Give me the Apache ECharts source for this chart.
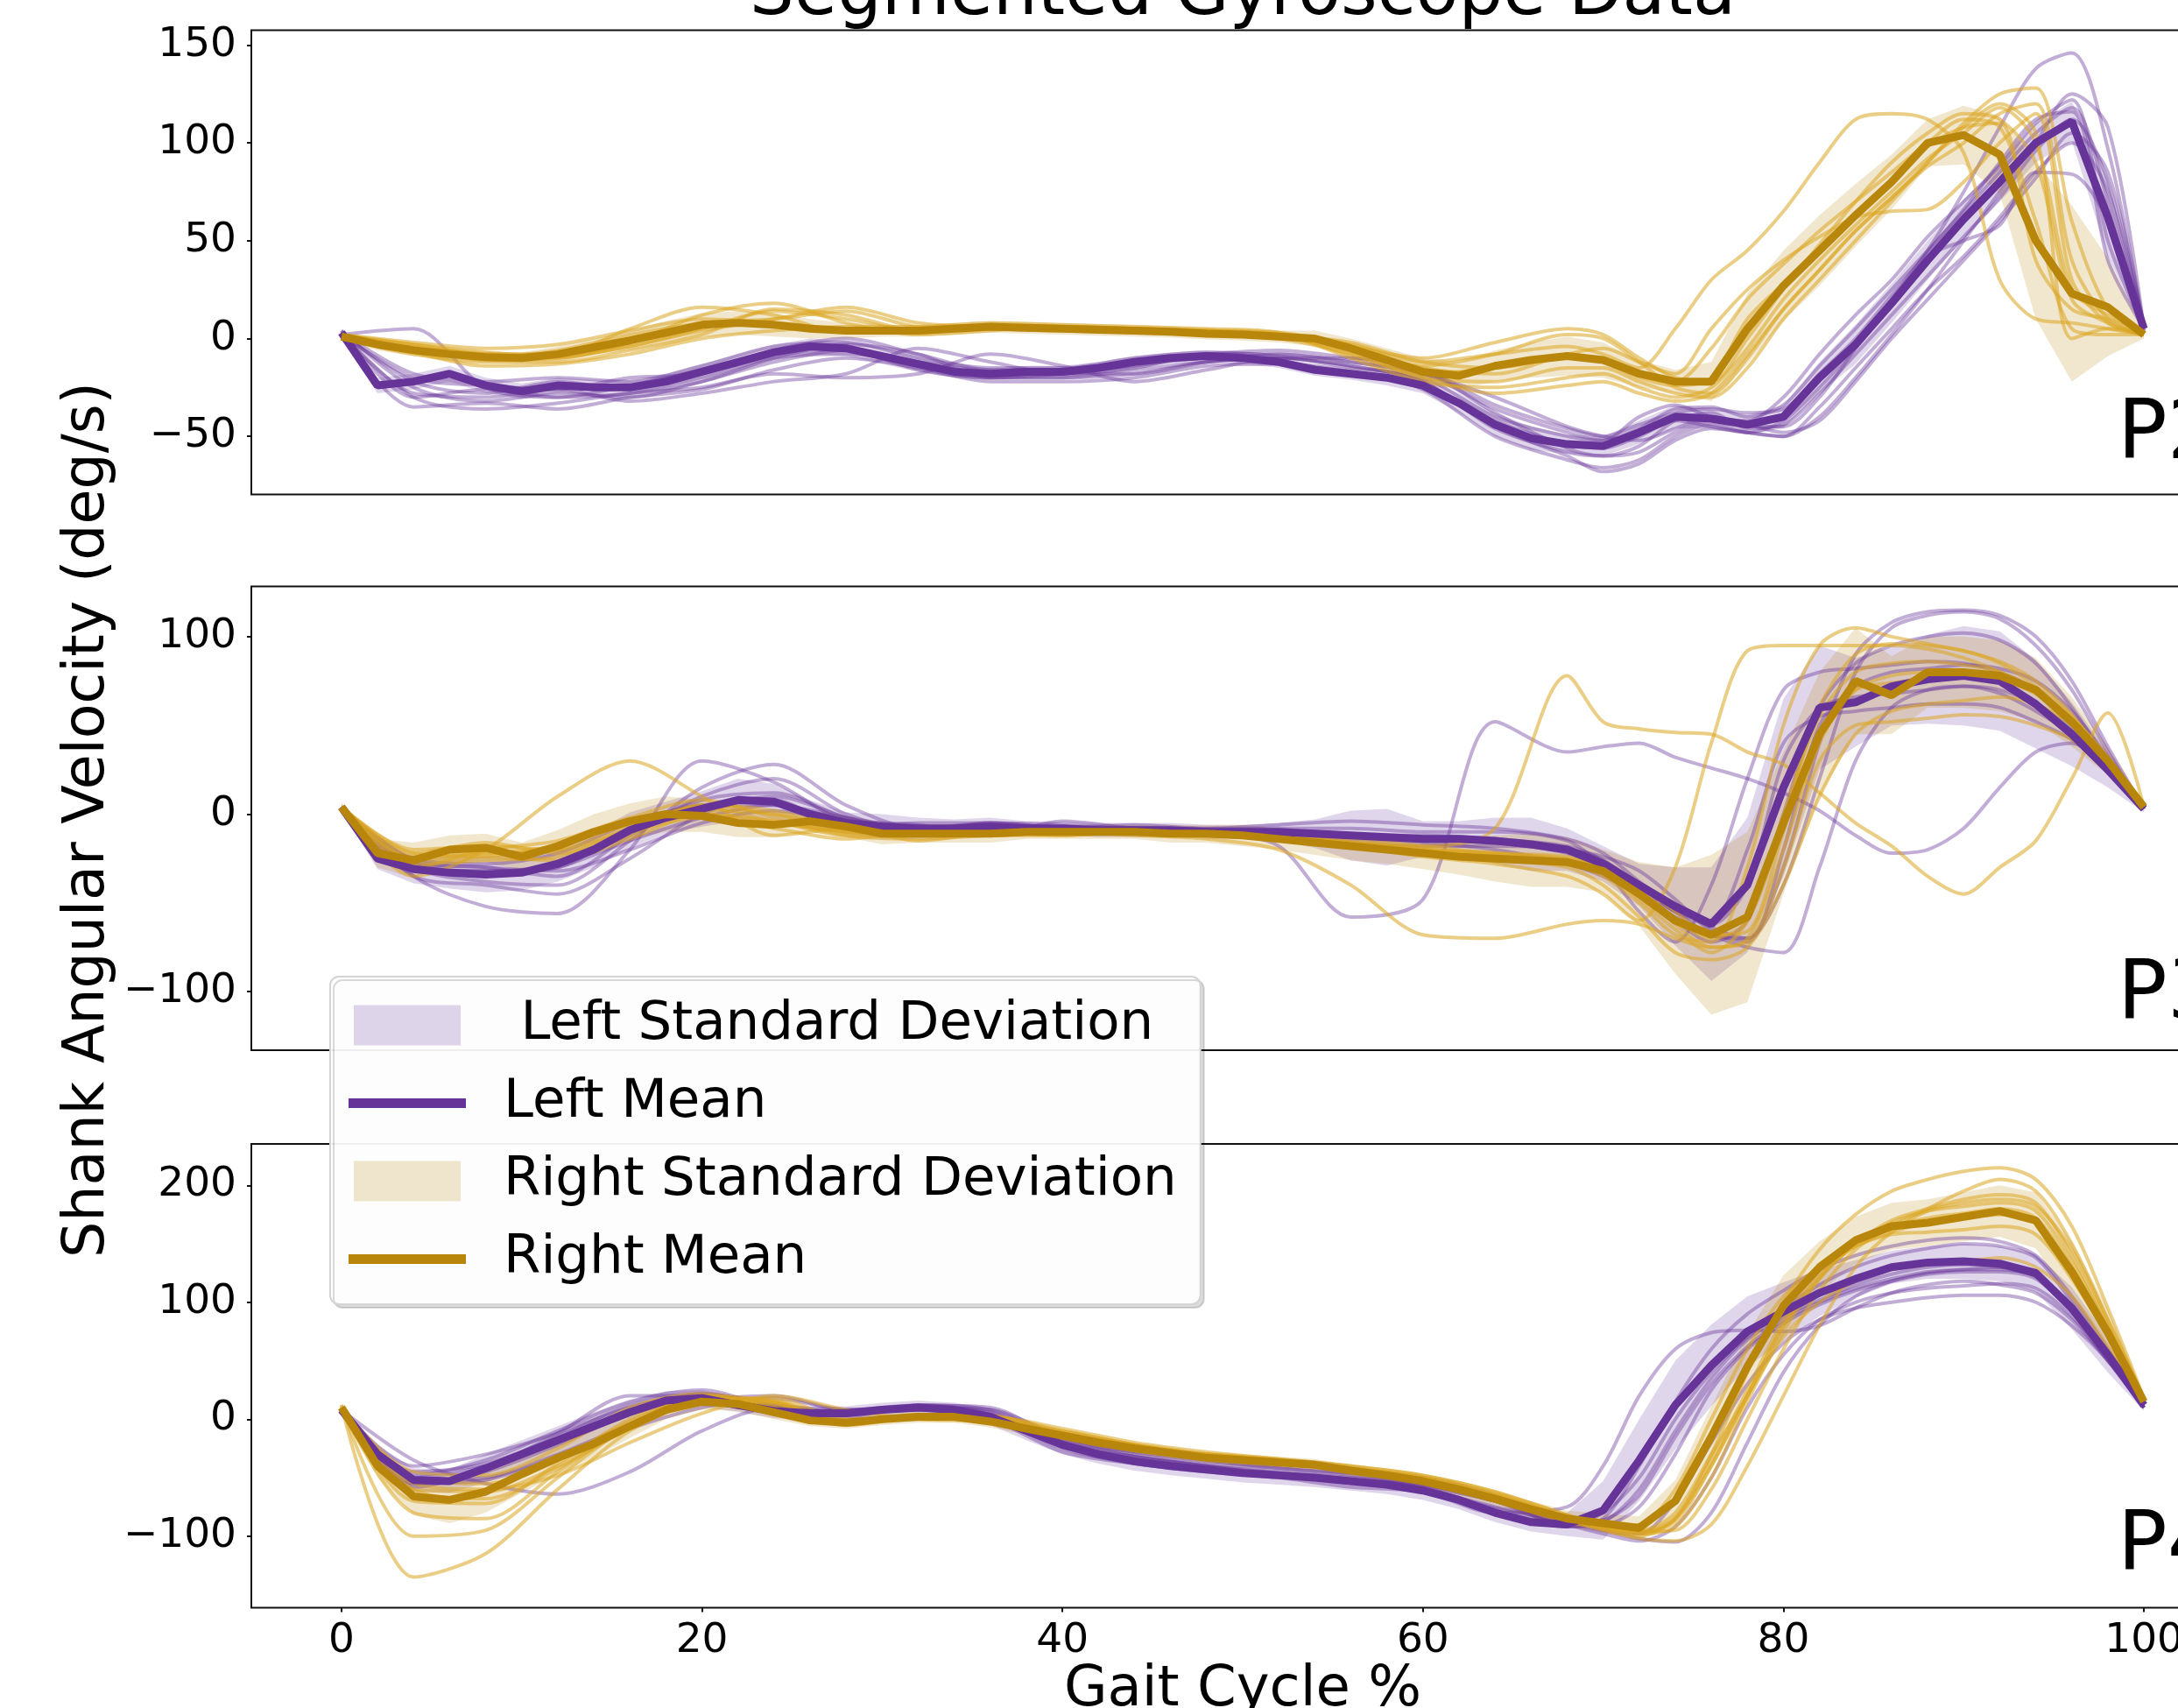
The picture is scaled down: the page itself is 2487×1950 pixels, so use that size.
<!DOCTYPE html>
<html><head><meta charset="utf-8">
<script src="https://cdn.jsdelivr.net/npm/echarts@6/dist/echarts.min.js"></script>
<style>html,body{margin:0;padding:0;background:#fff}#c{width:2487px;height:1950px}</style>
</head><body><div id="c"></div>
<script>
// ---------- shared x grids ----------
const meanX = [0,2,4,6,8,10,12,14,16,18,20,22,24,26,28,30,32,34,36,38,40,42,44,46,48,50,52,54,56,58,60,62,64,66,68,70,72,74,76,78,80,82,84,86,88,90,92,94,96,98,100];
const trialX = [0,4,8,12,16,20,24,28,32,36,40,44,48,52,56,60,64,68,70,72,74,76,78,80,82,84,86,88,90,92,94,96,98,100];
const xTicks = [0,20,40,60,80,100];
const panelNames = ['P2','P3','P4'];
const yTicksP2 = [-50,0,50,100,150];
const yTicksP3 = [-100,0,100];
const yTicksP4 = [-100,0,100,200];

// ---------- P2 ----------
const p2LeftMean = [3,-24,-22,-18,-24,-27,-24,-25,-25,-22,-17,-12,-7,-4,-5,-9,-13,-17,-18,-17,-17,-15,-12,-10,-9,-10,-12,-16,-18,-20,-24,-33,-44,-51,-54,-55,-48,-40,-41,-44,-40,-20,-3,18,40,61,80,100,111,62,5];
const p2LeftSd = [2,4,4,4,4,4,4,4,4,4,4,4,4,4,4,4,4,3,3,3,3,3,3,3,3,3,3,3,3,4,4,5,6,6,5,5,6,6,5,5,6,8,10,10,10,10,10,10,10,20,2];
const p2RightMean = [1,-3,-6,-8,-9.5,-10,-8,-4.5,-1,3,7,8,7,5,4,4,4,5,6,5.5,5,4.5,4,3.5,2.5,2,1,0,-5,-11,-17,-19,-14,-11,-9,-11,-18,-22,-22,5,27,45,63,80,100,104,94,50,23,16,2];
const p2RightSd = [2,3,3,3,3,3,4,4,5,6,6,6,6,5,4,3,3,3,3,3,3,3,3,3,3,3,3,4,5,6,7,7,8,9,10,9,7,6,10,18,18,18,16,14,12,15,20,40,45,25,2];
const p2LeftTrials = [
  [3,-18,-22,-20,-22,-14,-4,-2,-10,-15,-15,-10,-7,-9,-15,-20,-40,-50,-52,-46,-36,-35,-40,-34,-14,5,25,45,65,85,105,118,70,5],
  [2,5,-25,-30,-28,-22,-10,-3,-8,-20,-20,-16,-12,-10,-14,-22,-46,-58,-60,-55,-42,-38,-46,-44,-28,-8,12,32,52,72,96,112,80,6],
  [2,-35,-33,-36,-30,-26,-16,-10,-15,-22,-22,-20,-14,-13,-17,-26,-50,-62,-66,-62,-50,-44,-48,-50,-35,-15,5,25,42,62,85,100,75,4],
  [3,-28,-30,-26,-32,-28,-22,-18,-5,-12,-18,-18,-12,-8,-12,-18,-30,-45,-50,-52,-46,-40,-45,-45,-30,-5,20,45,75,108,138,146,97,6],
  [4,-30,-26,-30,-24,-16,-8,-6,-16,-20,-18,-14,-10,-12,-18,-24,-42,-54,-56,-50,-42,-45,-48,-42,-25,-5,18,42,50,58,85,84,60,4],
  [3,-22,-28,-22,-26,-20,-10,-8,-12,-17,-18,-15,-8,-8,-12,-18,-36,-48,-52,-40,-34,-40,-42,-30,-8,12,30,52,70,88,110,122,50,5],
  [3,-30,-36,-33,-28,-25,-18,-20,-18,-8,-14,-22,-16,-10,-10,-16,-38,-56,-60,-58,-48,-42,-44,-48,-42,-22,0,20,40,60,82,105,85,5],
  [4,-25,-32,-28,-30,-22,-12,-6,-14,-20,-20,-18,-12,-10,-14,-22,-45,-60,-68,-64,-52,-46,-48,-50,-40,-20,2,25,50,75,100,125,108,5],
  [2,-20,-24,-26,-20,-18,-6,0,-8,-16,-16,-12,-8,-6,-10,-16,-34,-46,-50,-44,-38,-36,-38,-36,-18,0,22,44,66,90,112,116,40,5]
];
const p2RightTrials = [
  [2,-2,-5,-3,4,10,8,5,5,7,6,5,4,3,-3,-12,-8,-4,-8,-15,5,30,45,65,90,112,115,112,95,30,10,8,5,2],
  [1,-6,-10,-8,-2,6,8,4,3,6,5,4,3,1,-6,-18,-15,-10,-12,-20,-24,-20,10,28,45,62,80,98,108,110,40,15,10,2],
  [0,-8,-12,-12,-6,2,15,12,4,5,5,3,2,0,-8,-20,-22,-15,-15,-22,-28,-30,-15,10,30,50,70,90,110,125,128,60,15,3],
  [1,-4,-8,-10,-2,12,18,8,2,4,6,5,3,2,-4,-10,-2,5,2,-10,-20,-22,0,25,48,70,90,105,115,112,90,20,8,2],
  [2,-7,-14,-13,-8,0,4,6,6,8,7,6,5,3,-10,-22,-25,-20,-18,-25,-30,-25,-5,20,40,58,75,92,105,118,100,25,12,3],
  [1,-5,-9,-6,2,8,10,14,6,5,4,4,3,1,-5,-15,-18,-8,-5,-12,-18,5,25,40,52,62,65,66,80,100,115,30,8,2],
  [1,-3,-8,-8,5,16,12,3,3,6,6,5,4,2,-5,-14,-8,2,0,-12,-25,-28,-10,15,35,55,72,88,100,115,120,40,10,2],
  [0,-5,-11,-10,-4,4,10,16,8,6,5,5,4,2,-8,-20,-28,-24,-22,-28,-32,-28,-8,15,35,55,72,90,108,120,105,0,5,2],
  [2,-3,-7,-9,-4,5,14,10,4,6,6,5,4,2,-2,-12,-15,-10,-12,-18,-22,-5,20,38,55,70,85,100,112,108,60,5,2,2]
];

// ---------- P3 ----------
const p3LeftMean = [4,-25,-31,-33,-34,-33,-28,-20,-9,-2,3,8,7,0,-5,-7,-8,-8,-7,-8,-8,-9,-9,-9,-10,-10,-10,-11,-12,-13,-14,-14,-15,-17,-20,-28,-40,-52,-62,-40,15,60,63,72,76,78,75,62,45,25,3];
const p3LeftSd = [2,6,8,9,10,10,10,10,10,9,10,12,10,8,6,7,6,5,5,4,4,4,4,4,4,4,5,8,14,16,10,10,13,15,12,10,12,22,32,38,50,35,25,22,25,28,28,25,18,10,2];
const p3RightMean = [4,-22,-26,-20,-19,-24,-18,-10,-4,0,-1,-5,-6,-4,-7,-11,-11,-11,-11,-10,-10,-10,-10,-11,-11,-12,-14,-16,-18,-20,-22,-24,-25,-26,-27,-32,-45,-60,-68,-58,-5,45,75,67,80,80,78,70,52,30,4];
const p3RightSd = [2,8,10,8,8,8,9,10,10,10,9,8,7,6,6,6,5,5,5,4,4,4,4,5,5,6,6,7,8,8,9,10,13,15,14,12,18,30,45,48,40,35,30,22,20,20,20,18,14,8,2];
const p3LeftTrials = [
  [4,-30,-32,-30,-8,5,5,-5,-8,-6,-8,-8,-10,-18,-58,-48,52,35,38,40,32,26,20,12,2,-12,-22,-20,-8,15,35,40,25,4],
  [4,-35,-52,-56,-20,30,18,-5,-12,-8,-8,-8,-10,-10,-12,-14,-16,-22,-32,-45,-60,-72,-60,0,60,85,95,100,102,98,85,60,30,3],
  [4,-28,-30,-35,-12,10,20,0,-10,-5,-6,-8,-8,-6,-4,-6,-8,-14,-22,-38,-52,-64,-70,-40,20,80,105,112,114,110,95,70,35,3],
  [4,-35,-40,-45,-25,0,10,-2,-12,-10,-10,-10,-12,-12,-14,-16,-20,-28,-35,-45,-58,-68,-75,-78,-30,30,60,70,72,68,58,45,25,3],
  [4,-25,-28,-22,-5,5,8,-8,-5,-5,-8,-10,-10,-12,-16,-18,-18,-20,-28,-42,-55,-60,-20,40,55,58,60,62,62,60,52,42,25,3],
  [4,-32,-34,-30,-15,-2,5,-2,-8,-10,-8,-6,-8,-8,-8,-10,-10,-15,-30,-55,-72,-40,20,70,80,82,84,86,85,80,70,52,30,3],
  [4,-30,-38,-40,-15,15,28,5,-8,-5,-8,-10,-10,-10,-12,-12,-14,-18,-26,-40,-55,-68,-70,-30,40,90,108,114,115,112,100,75,38,3],
  [4,-28,-32,-28,-10,8,12,-2,-10,-8,-10,-8,-10,-10,-12,-14,-16,-20,-26,-40,-55,-62,-40,30,60,66,68,70,72,70,62,48,28,3],
  [4,-26,-30,-32,-20,-5,2,-4,-6,-12,-4,-8,-10,-10,-12,-14,-16,-20,-24,-32,-48,-66,-72,-20,50,72,80,82,84,82,75,58,32,3]
];
const p3RightTrials = [
  [4,-25,-22,-18,-5,0,-5,-10,-12,-10,-10,-10,-12,-14,-16,-18,-8,78,52,48,46,45,35,28,12,-5,-18,-35,-45,-30,-15,20,57,4],
  [4,-20,-18,-20,-10,-2,-8,-14,-10,-12,-10,-11,-12,-14,-18,-24,-28,-35,-45,-60,-30,40,92,95,95,95,95,93,88,80,68,52,30,4],
  [4,-30,-20,-15,-2,8,-2,-12,-14,-12,-10,-12,-14,-20,-40,-68,-70,-62,-60,-62,-70,-75,-70,-20,40,70,78,80,80,76,68,54,32,4],
  [4,-35,-20,10,30,10,-12,-8,-15,-10,-8,-8,-10,-12,-16,-20,-22,-25,-30,-42,-60,-70,-60,-5,60,90,96,95,92,85,72,55,30,4],
  [4,-28,-26,-24,-8,2,0,-10,-10,-12,-10,-10,-10,-12,-14,-18,-22,-24,-30,-45,-62,-75,-72,-30,30,50,52,54,56,55,50,42,25,4],
  [4,-22,-16,-22,-12,5,0,-8,-12,-10,-12,-10,-12,-14,-18,-20,-24,-26,-32,-48,-65,-78,-60,0,55,80,85,86,84,80,70,52,28,4],
  [4,-24,-22,-20,-8,5,2,-8,-10,-10,-10,-10,-12,-14,-16,-20,-24,-28,-35,-50,-68,-72,-30,50,95,105,100,96,92,86,75,56,30,4],
  [4,-26,-24,-18,-6,4,-4,-10,-12,-12,-12,-10,-10,-12,-16,-20,-22,-26,-30,-40,-55,-68,-66,-10,45,70,74,76,78,76,68,52,30,4],
  [4,-22,-24,-26,-14,0,-4,-12,-10,-12,-10,-10,-12,-14,-18,-22,-26,-30,-40,-58,-78,-82,-75,-40,10,45,58,62,64,66,62,50,28,4]
];

// ---------- P4 ----------
const p4LeftMean = [8,-30,-52,-53,-42,-30,-18,-6,6,16,18,12,7,5,5,8,10,8,2,-10,-22,-30,-36,-40,-43,-46,-48,-50,-53,-56,-61,-69,-80,-88,-90,-78,-35,12,46,75,92,108,120,130,134,135,133,125,95,55,12];
const p4LeftSd = [3,8,10,10,12,12,12,12,10,8,7,6,6,6,6,6,6,6,7,8,8,8,8,8,8,8,8,8,8,8,8,8,8,8,10,25,35,38,35,30,25,20,16,14,14,15,15,16,18,15,5];
const p4RightMean = [10,-40,-66,-69,-62,-47,-33,-21,-6,8,15,13,6,-1,-3,0,2,2,-2,-8,-14,-20,-25,-29,-33,-35,-37,-39,-44,-48,-53,-60,-68,-77,-85,-89,-93,-70,-15,45,97,130,153,165,168,173,178,170,126,74,15];
const p4RightSd = [4,10,16,20,18,16,14,12,10,8,7,6,6,5,5,5,5,5,5,5,5,5,5,5,5,5,5,5,5,5,6,6,6,7,7,8,10,18,26,28,26,22,20,20,20,21,22,24,26,20,6];
const p4LeftTrials = [
  [8,-48,-35,-10,15,25,10,5,12,5,-20,-32,-40,-45,-50,-55,-70,-90,-80,-50,0,40,70,95,115,130,140,146,150,148,138,100,55,10],
  [8,-35,-55,-64,-45,-10,10,5,8,2,-25,-38,-44,-48,-55,-60,-75,-88,-95,-98,-70,-20,30,65,85,95,100,104,106,106,100,80,50,10],
  [8,-55,-45,-22,5,22,12,8,10,0,-28,-38,-45,-50,-58,-62,-80,-75,-40,20,60,74,76,75,80,95,108,115,118,115,108,85,50,10],
  [8,-52,-50,-30,-5,15,20,8,10,8,-15,-30,-38,-42,-48,-55,-66,-85,-95,-102,-105,-80,-20,40,80,105,118,125,128,130,125,95,55,12],
  [8,-58,-42,-12,20,20,5,2,12,10,-18,-28,-35,-42,-46,-50,-65,-92,-85,-40,15,60,90,110,128,140,148,153,155,152,140,105,60,12],
  [8,-50,-40,-20,8,15,6,4,8,4,-22,-35,-44,-47,-52,-58,-78,-92,-88,-60,-10,35,68,88,102,115,124,130,132,130,122,92,52,10],
  [8,-45,-38,-15,12,22,12,6,10,4,-18,-32,-40,-46,-52,-56,-70,-88,-90,-75,-30,25,60,82,98,110,118,124,126,126,120,92,52,10],
  [8,-55,-52,-32,-8,10,18,8,12,8,-20,-36,-42,-46,-52,-58,-70,-90,-98,-104,-92,-50,10,55,85,100,108,112,114,116,112,88,50,10],
  [8,-40,-30,-12,10,20,10,6,10,6,-22,-32,-40,-48,-54,-60,-76,-88,-86,-65,-15,30,62,85,100,112,120,126,128,128,122,95,55,10]
];
const p4RightTrials = [
  [12,-135,-115,-60,-10,15,18,0,2,0,-12,-22,-30,-35,-42,-50,-65,-85,-92,-98,-85,-40,20,80,120,150,170,180,188,192,185,140,80,16],
  [12,-100,-95,-50,-5,20,12,-2,0,2,-8,-20,-28,-34,-40,-48,-62,-82,-90,-96,-95,-60,0,60,110,145,165,180,195,205,195,150,85,18],
  [10,-70,-72,-38,0,20,15,-3,4,0,-12,-24,-30,-35,-42,-50,-66,-85,-95,-100,-85,-30,40,100,145,175,195,205,212,215,205,165,95,18],
  [10,-55,-60,-48,-20,5,20,8,0,-2,-10,-22,-32,-38,-44,-52,-68,-84,-92,-95,-80,-30,20,70,100,118,128,132,135,138,130,105,62,14],
  [10,-45,-48,-25,10,22,10,-5,2,3,-15,-26,-34,-36,-45,-54,-70,-88,-92,-90,-60,0,60,105,130,148,158,160,162,165,158,120,70,15],
  [10,-60,-68,-42,-8,15,15,-5,3,2,-15,-26,-32,-38,-44,-52,-65,-84,-94,-102,-104,-90,-40,20,80,130,160,178,185,188,182,145,85,18],
  [10,-80,-85,-45,-5,18,16,-2,3,0,-12,-22,-30,-34,-40,-48,-62,-82,-92,-98,-92,-50,15,75,120,150,168,178,182,185,178,135,78,16],
  [10,-60,-62,-40,-6,16,14,-4,2,2,-10,-22,-30,-35,-42,-50,-64,-84,-92,-96,-88,-40,20,80,122,148,160,168,172,175,168,128,75,15],
  [10,-50,-55,-35,-2,18,14,-4,2,2,-12,-24,-32,-36,-44,-52,-68,-86,-94,-96,-84,-35,25,85,125,152,165,172,176,180,172,130,76,15]
];

// ---------- styling ----------
const FONT = 'DejaVu Sans';
const C_LEFT = '#663399', C_RIGHT = '#B8860B';
const C_LEFT_TRIAL = 'rgba(102,51,153,0.4)', C_RIGHT_TRIAL = 'rgba(218,165,32,0.55)';
const C_LEFT_SD = 'rgba(102,51,153,0.2)', C_RIGHT_SD = 'rgba(184,134,11,0.2)';
const N_LSD = ' Left Standard Deviation', N_LM = 'Left Mean', N_RSD = 'Right Standard Deviation', N_RM = 'Right Mean';

const panels = [
  {lm: p2LeftMean, ls: p2LeftSd, rm: p2RightMean, rs: p2RightSd, lt: p2LeftTrials, rt: p2RightTrials, top: 34.5, h: 530, min: -79.7, max: 157.6, ticks: yTicksP2},
  {lm: p3LeftMean, ls: p3LeftSd, rm: p3RightMean, rs: p3RightSd, lt: p3LeftTrials, rt: p3RightTrials, top: 669.5, h: 529.5, min: -133, max: 128.3, ticks: yTicksP3},
  {lm: p4LeftMean, ls: p4LeftSd, rm: p4RightMean, rs: p4RightSd, lt: p4LeftTrials, rt: p4RightTrials, top: 1306, h: 529.5, min: -161.2, max: 235.4, ticks: yTicksP4}
];

const pairs = (xs, ys) => xs.map((x, k) => [x, ys[k]]);
const base = (g) => ({type: 'line', xAxisIndex: g, yAxisIndex: g, symbol: 'none', silent: true, animation: false, emphasis: {disabled: true}});

// mean ± sd band, drawn as one polygon through the axes' own coordinate mapping
function band(g, name, mean, sd, color) {
  return {
    type: 'custom', name, xAxisIndex: g, yAxisIndex: g, silent: true, animation: false, clip: true,
    itemStyle: {color},
    data: meanX.map((x, k) => [x, mean[k] - sd[k], mean[k] + sd[k]]),
    encode: {x: 0, y: [1, 2]},
    renderItem: (params, api) => {
      if (params.dataIndex !== 0) return null;
      const n = params.dataInsideLength;
      const pts = [];
      for (let k = 0; k < n; k++) pts.push(api.coord([api.value(0, k), api.value(2, k)]));
      for (let k = n - 1; k >= 0; k--) pts.push(api.coord([api.value(0, k), api.value(1, k)]));
      return {type: 'polygon', shape: {points: pts}, style: {fill: color}};
    }
  };
}

const series = [];
panels.forEach((p, g) => {
  p.lt.forEach(t => series.push(Object.assign(base(g), {data: pairs(trialX, t), smooth: 0.3, lineStyle: {color: C_LEFT_TRIAL, width: 4}})));
  p.rt.forEach(t => series.push(Object.assign(base(g), {data: pairs(trialX, t), smooth: 0.3, lineStyle: {color: C_RIGHT_TRIAL, width: 4}})));
  series.push(band(g, N_LSD, p.lm, p.ls, C_LEFT_SD));
  series.push(band(g, N_RSD, p.rm, p.rs, C_RIGHT_SD));
  series.push(Object.assign(base(g), {name: N_LM, data: pairs(meanX, p.lm), lineStyle: {color: C_LEFT, width: 9}, itemStyle: {color: C_LEFT}}));
  series.push(Object.assign(base(g), {name: N_RM, data: pairs(meanX, p.rm), lineStyle: {color: C_RIGHT, width: 9}, itemStyle: {color: C_RIGHT}}));
});

const grids = panels.map(p => ({left: 287, top: p.top, width: 2264, height: p.h, show: true, borderColor: '#111', borderWidth: 2, backgroundColor: 'transparent', containLabel: false, outerBoundsMode: 'none'}));
const xAxes = panels.map((p, g) => {
  const bottom = g === panels.length - 1;
  return {
    type: 'value', gridIndex: g, min: -5, max: 105,
    axisLine: {show: false, onZero: false}, splitLine: {show: false},
    axisTick: {show: bottom, length: 5, lineStyle: {color: '#111', width: 2}, customValues: xTicks},
    axisLabel: {show: bottom, fontSize: 47, fontFamily: FONT, color: '#000', margin: 15, customValues: xTicks},
    name: bottom ? 'Gait Cycle %' : '', nameLocation: 'middle', nameGap: 61,
    nameTextStyle: {fontSize: 64, fontFamily: FONT, color: '#000'}
  };
});
const yAxes = panels.map((p, g) => ({
  type: 'value', gridIndex: g, min: p.min, max: p.max,
  axisLine: {show: false, onZero: false}, splitLine: {show: false},
  axisTick: {show: true, length: 5, lineStyle: {color: '#111', width: 2}, customValues: p.ticks},
  axisLabel: {fontSize: 47, fontFamily: FONT, color: '#000', margin: 17, customValues: p.ticks, padding: [14, 0, 0, 0],
    formatter: v => String(v).replace('-', '\u2212')}
}));

const patchIcon = 'path://M0,0L0.01,0Z M172,46L171.99,46Z M6,0L128,0L128,46L6,46Z';
const lineIcon = 'path://M0,0L0.01,0Z M172,46L171.99,46Z M0,17.5L134,17.5L134,28.5L0,28.5Z';

const txt = (text, x, y, size, align, rot) => ({
  type: 'text', x, y, rotation: rot || 0, silent: true, z: 10,
  style: {text, fontSize: size, fontFamily: FONT, fill: '#000', textAlign: align, align, textVerticalAlign: 'middle', verticalAlign: 'middle'}
});
const labelY = [498.6, 1138.6, 1767.6];

const option = {
  backgroundColor: '#fff',
  animation: false,
  grid: grids, xAxis: xAxes, yAxis: yAxes, series,
  legend: {
    orient: 'vertical', left: 377, top: 1115,
    padding: [25, 27, 21, 21], itemGap: 28,
    itemWidth: 172, itemHeight: 46,
    backgroundColor: 'rgba(255,255,255,0.93)',
    borderColor: '#d4d4d4', borderWidth: 2, borderRadius: 10,
    shadowColor: 'rgba(0,0,0,0.15)', shadowOffsetX: 4, shadowOffsetY: 4, shadowBlur: 0,
    selectedMode: false,
    textStyle: {fontSize: 61, fontFamily: FONT, color: '#000'},
    data: [
      {name: N_LSD, icon: patchIcon, itemStyle: {color: C_LEFT_SD, borderWidth: 0}},
      {name: N_LM, icon: lineIcon, itemStyle: {color: C_LEFT, borderWidth: 0}},
      {name: N_RSD, icon: patchIcon, itemStyle: {color: C_RIGHT_SD, borderWidth: 0}},
      {name: N_RM, icon: lineIcon, itemStyle: {color: C_RIGHT, borderWidth: 0}}
    ]
  },
  graphic: [
    txt('Segmented Gyroscope Data', 1419, -5, 80, 'center'),
    txt('Shank Angular Velocity (deg/s)', 101, 936, 65, 'center', Math.PI / 2),
    ...panelNames.map((n, i) => txt(n, 2418, labelY[i], 94, 'left'))
  ]
};

const chart = echarts.init(document.getElementById('c'), null, {renderer: 'canvas'});
chart.setOption(option);
</script></body></html>
